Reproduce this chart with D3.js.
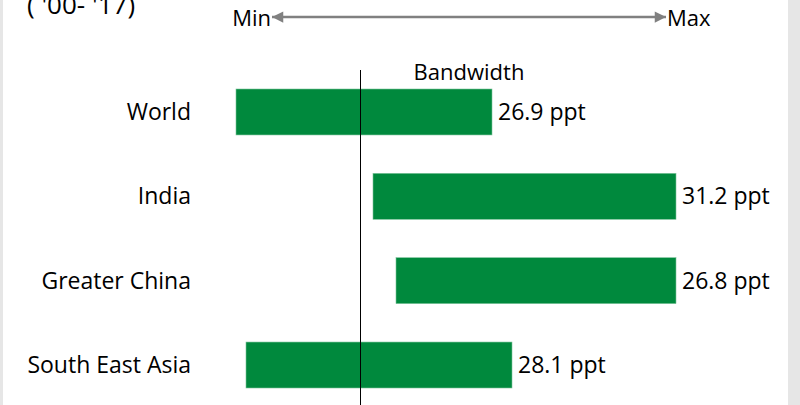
<!DOCTYPE html>
<html>
<head>
<meta charset="utf-8">
<script src="https://cdn.jsdelivr.net/npm/d3@7"></script>
<style>
  body { margin: 0; background: #fff; }
  svg text { font-family: "Open Sans", "Noto Sans", sans-serif; fill: #000; }
</style>
</head>
<body>
<div id="chart"></div>
<script>
// Chart data
var regions = ["World", "India", "Greater China", "South East Asia"];
var rangeMin = [-12.4, 1.3, 3.6, -11.4];
var rangeMax = [13.2, 31.6, 31.6, 15.2];
var bandLabels = ["26.9 ppt", "31.2 ppt", "26.8 ppt", "28.1 ppt"];
var refValue = 0;

var svgWidth = 800;
var svgHeight = 405;

var svg = d3.select("#chart")
    .append("svg")
    .attr("width", svgWidth)
    .attr("height", svgHeight);

// gray frame strips
svg.append("rect").attr("x", 0).attr("y", 0).attr("width", 3).attr("height", svgHeight).attr("fill", "#e6e6e6");
svg.append("rect").attr("x", 788).attr("y", 0).attr("width", 12).attr("height", svgHeight).attr("fill", "#e6e6e6");

var data = regions.map(function(r, i) {
    return { region: r, lo: rangeMin[i], hi: rangeMax[i], label: bandLabels[i] };
});

// scales
var xScale = d3.scaleLinear().domain([-12.4, 31.6]).range([236, 676]);
var yScale = d3.scaleBand().domain(regions).range([89, 388]).paddingInner(0.455).paddingOuter(0);

// title fragment at top (cut off in the original too)
svg.append("text")
    .attr("x", 27)
    .attr("y", 14)
    .style("font-size", "26px")
    .text("( '00- '17)");

// Min / Max arrow
var defs = svg.append("defs");
["arrowEnd", "arrowStart"].forEach(function(id) {
    defs.append("marker")
        .attr("id", id)
        .attr("viewBox", "0 0 10 10")
        .attr("refX", 10)
        .attr("refY", 5)
        .attr("markerWidth", 5)
        .attr("markerHeight", 4.5)
        .attr("orient", "auto-start-reverse")
        .attr("markerUnits", "strokeWidth")
        .append("path")
        .attr("d", "M0,0 L10,5 L0,10 Z")
        .attr("fill", "#808080");
});

svg.append("line")
    .attr("x1", 272).attr("x2", 666)
    .attr("y1", 17).attr("y2", 17)
    .attr("stroke", "#808080")
    .attr("stroke-width", 2.5)
    .attr("marker-start", "url(#arrowStart)")
    .attr("marker-end", "url(#arrowEnd)");

svg.append("text")
    .attr("x", 271).attr("y", 26)
    .attr("text-anchor", "end")
    .style("font-size", "22px")
    .text("Min");

svg.append("text")
    .attr("x", 667).attr("y", 26)
    .style("font-size", "22px")
    .text("Max");

svg.append("text")
    .attr("x", 469).attr("y", 80)
    .attr("text-anchor", "middle")
    .style("font-size", "22px")
    .text("Bandwidth");

// bars
svg.selectAll("rect.band")
    .data(data)
    .enter()
    .append("rect")
    .attr("class", "band")
    .attr("x", d => xScale(d.lo))
    .attr("y", d => yScale(d.region))
    .attr("width", d => xScale(d.hi) - xScale(d.lo))
    .attr("height", yScale.bandwidth())
    .attr("fill", "#00893d")
    .attr("stroke", "#7cc39a")
    .attr("stroke-width", 0.6);

// reference line
svg.append("line")
    .attr("x1", xScale(refValue) + 0.5).attr("x2", xScale(refValue) + 0.5)
    .attr("y1", 70).attr("y2", svgHeight)
    .attr("stroke", "#000")
    .attr("stroke-width", 1);

// region labels
svg.selectAll("text.region")
    .data(data)
    .enter()
    .append("text")
    .attr("class", "region")
    .attr("x", 191)
    .attr("y", d => yScale(d.region) + yScale.bandwidth() / 2)
    .attr("dy", "0.35em")
    .attr("text-anchor", "end")
    .style("font-size", "23px")
    .text(d => d.region);

// value labels
svg.selectAll("text.value")
    .data(data)
    .enter()
    .append("text")
    .attr("class", "value")
    .attr("x", d => xScale(d.hi) + 6)
    .attr("y", d => yScale(d.region) + yScale.bandwidth() / 2)
    .attr("dy", "0.35em")
    .style("font-size", "23px")
    .text(d => d.label);
</script>
</body>
</html>
